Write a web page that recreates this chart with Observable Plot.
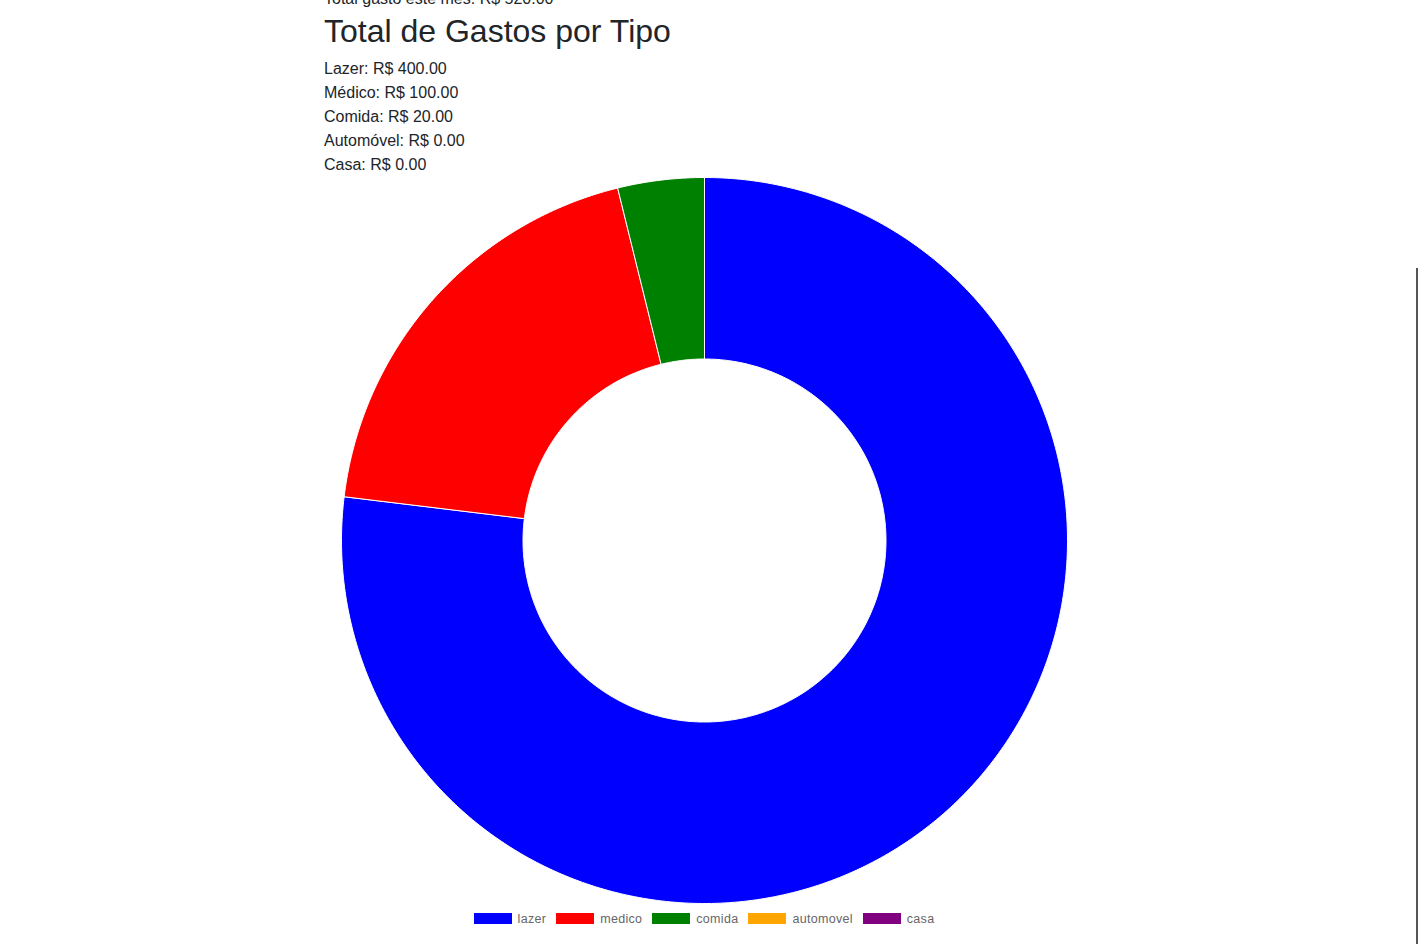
<!DOCTYPE html>
<html>
<head>
<meta charset="utf-8">
<script src="https://cdn.jsdelivr.net/npm/d3@7"></script>
<script src="https://cdn.jsdelivr.net/npm/@observablehq/plot@0.6"></script>
<style>
  body { margin: 0; font-family: "Liberation Sans", Arial, sans-serif; color: #212529; background: #fff; overflow: hidden; }
  #top { position: absolute; left: 324px; top: -13px; }
  #top p { margin: 0; font-size: 16px; line-height: 24px; }
  #top h2 { margin: 0 0 6px 0; font-size: 32px; font-weight: 400; line-height: 40px; }
  #chart { position: absolute; left: 324px; top: 176px; }
  #legend { position: absolute; top: 912px; left: 0; width: 1408px; text-align: center; font-size: 12.5px; color: #666; letter-spacing: 0.3px; }
  #legend span.item { display: inline-block; margin: 0 5px; }
  #legend i { display: inline-block; width: 38px; height: 11px; vertical-align: -1px; margin-right: 6px; }
  #bar { position: absolute; right: 3px; top: 268px; width: 2px; height: 676px; background: #555; }
</style>
</head>
<body>
<div id="top">
  <p>Total gasto este mês: R$ 520.00</p>
  <h2>Total de Gastos por Tipo</h2>
  <div id="lines"></div>
</div>
<div id="chart"></div>
<div id="legend"></div>
<div id="bar"></div>
<script>
const tipos = ["lazer", "medico", "comida", "automovel", "casa"];
const rotulos = ["Lazer", "Médico", "Comida", "Automóvel", "Casa"];
const valores = [400, 100, 20, 0, 0];
const cores = ["blue", "red", "green", "orange", "purple"];

d3.select("#lines").selectAll("p").data(rotulos).join("p")
  .text((d, i) => `${d}: R$ ${valores[i].toFixed(2)}`);

// arcos do donut (raio externo 1, interno 0.5), começando às 12h, sentido horário
const total = d3.sum(valores);
let pontos = [];
let acum = 0;
tipos.forEach((t, i) => {
  if (valores[i] === 0) return;
  const a0 = acum / total * 2 * Math.PI;
  acum += valores[i];
  const a1 = acum / total * 2 * Math.PI;
  const n = Math.max(2, Math.ceil((a1 - a0) * 80));
  const arco = d3.range(n + 1).map(k => a0 + (a1 - a0) * k / n);
  const externo = arco.map(a => ({tipo: t, x: Math.sin(a), y: Math.cos(a)}));
  const interno = arco.reverse().map(a => ({tipo: t, x: 0.5 * Math.sin(a), y: 0.5 * Math.cos(a)}));
  pontos.push(...externo, ...interno, externo[0]);
});

const r = 363;
const chart = Plot.plot({
  width: 760,
  height: 754,
  margin: 0,
  x: {domain: [-380 / r, 380 / r], axis: null},
  y: {domain: [-390 / r, 364 / r], axis: null},
  color: {domain: tipos, range: cores},
  marks: [
    Plot.line(pontos, {x: "x", y: "y", z: "tipo", fill: "tipo", stroke: "white", strokeWidth: 1})
  ]
});
d3.select("#chart").append(() => chart);

d3.select("#legend").selectAll("span").data(tipos).join("span")
  .attr("class", "item")
  .html((d, i) => `<i style="background:${cores[i]}"></i>${d}`);
</script>
</body>
</html>
